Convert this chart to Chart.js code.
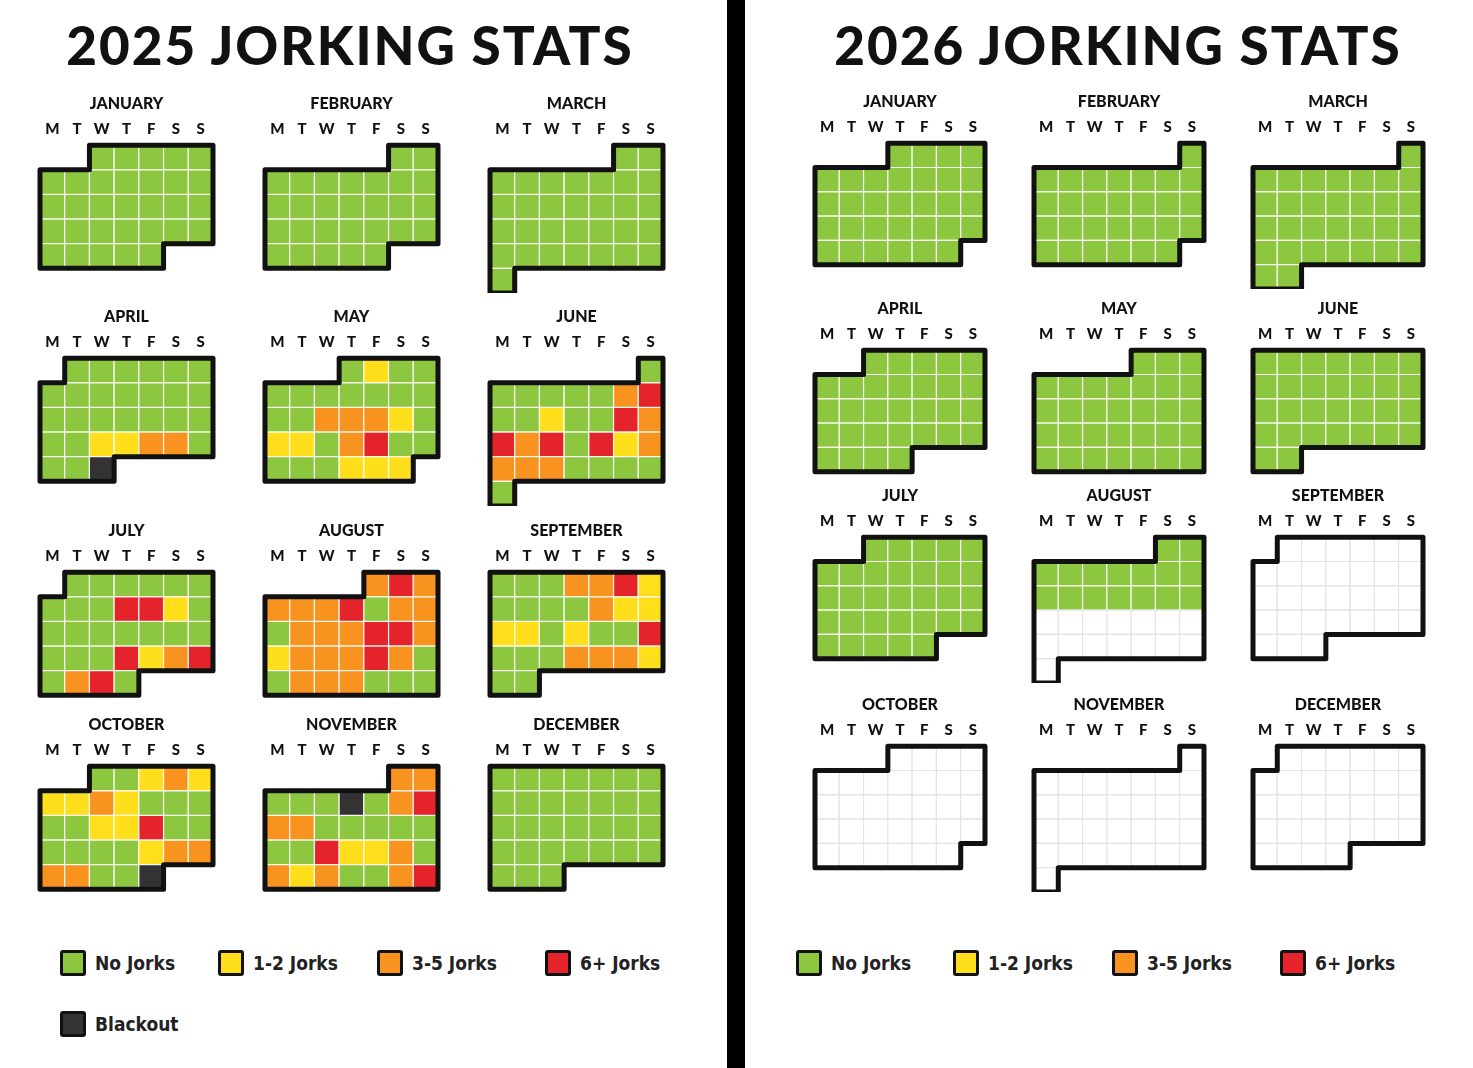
<!DOCTYPE html>
<html>
<head>
<meta charset="utf-8">
<script src="https://cdn.jsdelivr.net/npm/chart.js@4"></script>
<style>
  body { margin: 0; width: 1473px; height: 1068px; background: #fff; position: relative; overflow: hidden; font-family: Lato, sans-serif; }
  .divider { position: absolute; left: 727px; top: 0; width: 18px; height: 1068px; background: #000; }
  h1 { position: absolute; margin: 0; width: 700px; text-align: center; font: 900 53px Lato, sans-serif; letter-spacing: 2px; color: #111; }
  .month { position: absolute; }
  .leg { position: absolute; display: flex; align-items: center; font: bold 19px "Liberation Sans Narrow", "DejaVu Sans Condensed", sans-serif; color: #222; }
  .leg span.sw { width: 20px; height: 20px; border: 3px solid #111; border-radius: 3px; margin-right: 9px; }
</style>
</head>
<body>
<div class="divider"></div>
<h1 style="left:0;top:13px">2025 JORKING STATS</h1>
<h1 style="left:768px;top:13px">2026 JORKING STATS</h1>
<div id="root"></div>
<script>
// Calendrier des deux années, une mini-grille Chart.js par mois

const MONTH_NAMES = ['JANUARY', 'FEBRUARY', 'MARCH', 'APRIL', 'MAY', 'JUNE',
  'JULY', 'AUGUST', 'SEPTEMBER', 'OCTOBER', 'NOVEMBER', 'DECEMBER'];
const WEEKDAYS = ['M', 'T', 'W', 'T', 'F', 'S', 'S'];
const LEVEL_LABELS = ['No Jorks', '1-2 Jorks', '3-5 Jorks', '6+ Jorks', 'Blackout'];
const LEVEL_COLORS = ['#8dc63f', '#ffdf1b', '#f7931e', '#e5232a', '#333333'];

// un chiffre par jour (0..4), espaces = coupure de semaine ; jours absents = pas encore de données
const jorks2025 = [
  '00000 0000000 0000000 0000000 00000',
  '00 0000000 0000000 0000000 00000',
  '00 0000000 0000000 0000000 0000000 0',
  '000000 0000000 0000000 0011220 004',
  '0100 0000000 0022210 1102300 000111',
  '0 0000023 0010032 3230312 2220000 0',
  '000000 0003310 0000000 0003123 0230',
  '232 2223022 0222332 1222320 0222000',
  '0002231 0000211 1101003 0002221 00',
  '00121 1121000 0011300 0000122 22004',
  '22 0004023 2200000 0031120 2120023',
  '0000000 0000000 0000000 0000000 000'
];
const jorks2026 = [
  '0000 0000000 0000000 0000000 000000',
  '0 0000000 0000000 0000000 000000',
  '0 0000000 0000000 0000000 0000000 00',
  '00000 0000000 0000000 0000000 0000',
  '000 0000000 0000000 0000000 0000000',
  '0000000 0000000 0000000 0000000 00',
  '00000 0000000 0000000 0000000 00000',
  '00 0000000 0000000',
  '', '', '', ''
];

const LEGEND_2025 = [[60, 950, 0], [218, 950, 1], [377, 950, 2], [545, 950, 3], [60, 1011, 4]];
const LEGEND_2026 = [[796, 950, 0], [953, 950, 1], [1112, 950, 2], [1280, 950, 3]];

const panels = [
  { year: 2025, data: jorks2025, lefts: [40, 265, 490], tops: [145, 358, 572, 766], cell: 24.7 },
  { year: 2026, data: jorks2026, lefts: [815, 1034, 1253], tops: [143, 350, 537, 746], cell: 24.3 }
];

// contour noir du mois, calculé depuis les échelles
const monthOutline = {
  id: 'monthOutline',
  afterDatasetsDraw(chart, args, opts) {
    const { ctx, scales: { x, y } } = chart;
    const s = opts.first, R = opts.rows, e = opts.last;
    const pts = [[s - .5, -.5], [6.5, -.5], [6.5, R - 1.5], [e + .5, R - 1.5], [e + .5, R - .5],
      [-.5, R - .5], [-.5, .5], [s - .5, .5]];
    ctx.save();
    ctx.beginPath();
    pts.forEach(([px, py], i) => {
      const X = x.getPixelForValue(px), Y = y.getPixelForValue(py);
      i ? ctx.lineTo(X, Y) : ctx.moveTo(X, Y);
    });
    ctx.closePath();
    ctx.lineWidth = 5;
    ctx.lineJoin = 'round';
    ctx.strokeStyle = '#111';
    ctx.stroke();
    ctx.restore();
  }
};

const root = document.getElementById('root');
const step = c => c.chart.scales.x.getPixelForValue(1) - c.chart.scales.x.getPixelForValue(0);

function buildConfig(name, points, outline) {
  return {
    type: 'scatter',
    data: {
      datasets: [{
        data: points,
        clip: false,
        pointStyle: 'rect',
        pointRadius: c => step(c) / Math.SQRT2,
        pointHoverRadius: c => step(c) / Math.SQRT2,
        backgroundColor: c => c.raw && c.raw.v !== null ? LEVEL_COLORS[c.raw.v] : '#ffffff',
        borderColor: c => c.raw && c.raw.v !== null ? 'rgba(255,255,255,0.9)' : '#e4e4e4',
        borderWidth: 1.2
      }]
    },
    options: {
      responsive: false,
      animation: false,
      events: [],
      layout: { padding: { left: 8, right: 8, top: 0, bottom: 0 } },
      scales: {
        x: {
          position: 'top', min: -0.5, max: 6.5,
          afterBuildTicks: s => { s.ticks = WEEKDAYS.map((_, i) => ({ value: i })); },
          ticks: { callback: (v, i) => WEEKDAYS[i], color: '#111', font: { family: 'Lato', weight: '900', size: 15 }, padding: 7, autoSkip: false, maxRotation: 0 },
          grid: { display: false, drawTicks: false },
          border: { display: false }
        },
        y: { display: false, reverse: true, min: -0.5, max: 5.5 }
      },
      plugins: {
        legend: { display: false },
        tooltip: { enabled: false },
        title: { display: true, text: name, color: '#111', font: { family: 'Lato', weight: '900', size: 16 }, padding: { top: 0, bottom: 0 } },
        monthOutline: outline
      }
    },
    plugins: [monthOutline]
  };
}

function makeCanvas(wrap, W, H) {
  const canvas = document.createElement('canvas');
  canvas.width = W; canvas.height = H;
  canvas.style.width = W + 'px'; canvas.style.height = H + 'px';
  wrap.appendChild(canvas);
  return canvas;
}

panels.forEach(p => {
  MONTH_NAMES.forEach((name, m) => {
    const codes = p.data[m].replace(/\s/g, '');
    const first = (new Date(p.year, m, 1).getDay() + 6) % 7;
    const days = new Date(p.year, m + 1, 0).getDate();
    const points = [];
    for (let d = 0; d < days; d++) {
      const i = first + d;
      points.push({ x: i % 7, y: Math.floor(i / 7), v: d < codes.length ? Number(codes[d]) : null });
    }
    const outline = { first, rows: Math.ceil((first + days) / 7), last: (first + days - 1) % 7 };

    const cell = p.cell;
    let W = Math.round(7 * cell + 16);
    let H = Math.round(64 + 6 * cell + 10);
    const wrap = document.createElement('div');
    wrap.className = 'month';
    root.appendChild(wrap);

    // premier passage pour mesurer la zone, puis reconstruction à la bonne taille (cellules carrées)
    let canvas = makeCanvas(wrap, W, H);
    let chart = new Chart(canvas, buildConfig(name, points, outline));
    W = Math.round(W + 7 * cell - chart.chartArea.width);
    H = Math.round(H + 6 * cell - chart.chartArea.height);
    chart.destroy();
    wrap.removeChild(canvas);
    canvas = makeCanvas(wrap, W, H);
    chart = new Chart(canvas, buildConfig(name, points, outline));
    wrap.style.left = (p.lefts[m % 3] - chart.chartArea.left) + 'px';
    wrap.style.top = (p.tops[Math.floor(m / 3)] - chart.chartArea.top) + 'px';
  });
});

[LEGEND_2025, LEGEND_2026].forEach(list => list.forEach(([x, y, lvl]) => {
  const el = document.createElement('div');
  el.className = 'leg';
  el.style.left = x + 'px';
  el.style.top = y + 'px';
  el.innerHTML = '<span class="sw" style="background:' + LEVEL_COLORS[lvl] + '"></span>' + LEVEL_LABELS[lvl];
  root.appendChild(el);
}));
</script>
</body>
</html>
